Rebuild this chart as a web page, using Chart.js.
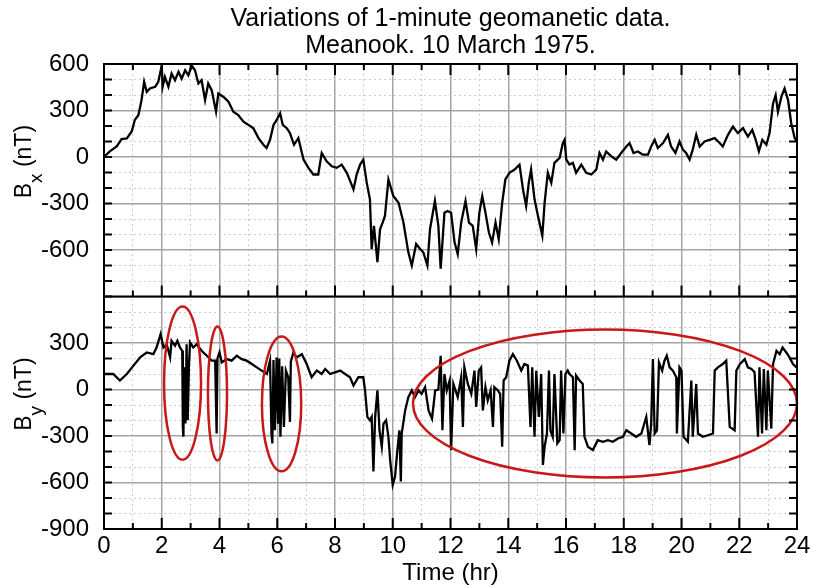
<!DOCTYPE html>
<html>
<head>
<meta charset="utf-8">
<script src="https://cdn.jsdelivr.net/npm/chart.js@4.4.1/dist/chart.umd.min.js"></script>
<style>
  html, body { margin: 0; padding: 0; background: #fff; }
  canvas { display: block; }
</style>
</head>
<body>
<canvas id="chart" width="814" height="588"></canvas>
<script>
const titleLines = ["Variations of 1-minute geomanetic data.", "Meanook. 10 March 1975."];
const xTitle = "Time (hr)";

// [hour, nT]
const bx = [
  [0, 0], [0.2, 36], [0.44, 68], [0.61, 115], [0.79, 120], [0.96, 165], [1.07, 240], [1.19, 270],
  [1.3, 367], [1.39, 485], [1.48, 420], [1.59, 442], [1.77, 453], [1.88, 485], [2.0, 590], [2.03, 453],
  [2.11, 517], [2.23, 453], [2.34, 538], [2.46, 495], [2.58, 549], [2.69, 506], [2.81, 560], [2.92, 527],
  [3.04, 590], [3.15, 560], [3.27, 474], [3.38, 495], [3.5, 367], [3.61, 474], [3.73, 431], [3.88, 292],
  [3.96, 410], [4.13, 389], [4.31, 357], [4.48, 292], [4.65, 271], [4.83, 228], [5.0, 207], [5.17, 186],
  [5.35, 122], [5.52, 79], [5.63, 58], [5.75, 111], [5.87, 207], [5.98, 239], [6.1, 282], [6.19, 207],
  [6.33, 186], [6.44, 154], [6.58, 79], [6.73, 122], [6.91, -17], [7.08, -70], [7.25, -113], [7.42, -113],
  [7.54, 26], [7.71, -28], [7.89, -60], [8.06, -70], [8.23, -49], [8.41, -102], [8.64, -209], [8.75, -113],
  [8.87, -49], [8.98, -17], [9.1, -167], [9.21, -273], [9.27, -594], [9.35, -444], [9.47, -679], [9.56, -466],
  [9.65, -423], [9.73, -380], [9.85, -145], [10.02, -252], [10.2, -295], [10.37, -423], [10.54, -615], [10.66, -700],
  [10.81, -561], [10.95, -594], [11.06, -615], [11.2, -700], [11.29, -466], [11.46, -284], [11.58, -444], [11.66, -721],
  [11.79, -359], [11.9, -348], [12.02, -359], [12.14, -551], [12.25, -626], [12.37, -423], [12.52, -284], [12.64, -423],
  [12.77, -444], [12.89, -594], [13.0, -359], [13.1, -252], [13.21, -359], [13.33, -487], [13.44, -551], [13.56, -423],
  [13.67, -530], [13.79, -295], [13.9, -145], [14.04, -102], [14.22, -81], [14.39, -49], [14.51, -209], [14.62, -316],
  [14.71, -167], [14.79, -81], [14.91, -273], [15.03, -380], [15.18, -508], [15.26, -295], [15.37, -102], [15.49, -167],
  [15.6, -38], [15.78, -6], [15.89, 90], [15.95, 111], [16.01, -17], [16.12, -49], [16.24, -38], [16.35, -102],
  [16.53, -49], [16.7, -102], [16.88, -113], [17.05, -81], [17.16, 26], [17.28, -17], [17.39, 36], [17.57, 4],
  [17.74, -17], [17.91, 26], [18.09, 68], [18.2, 90], [18.34, 26], [18.49, 36], [18.66, 15], [18.84, 15],
  [18.95, 68], [19.07, 111], [19.18, 58], [19.36, 90], [19.53, 143], [19.64, 68], [19.79, 26], [19.93, 100],
  [20.05, 47], [20.16, 26], [20.28, -17], [20.39, 47], [20.51, 143], [20.63, 68], [20.8, 100], [20.97, 111],
  [21.15, 122], [21.32, 90], [21.43, 68], [21.61, 143], [21.78, 196], [21.95, 154], [22.13, 186], [22.3, 132],
  [22.45, 175], [22.57, 111], [22.68, 36], [22.8, 111], [22.94, 79], [23.05, 154], [23.17, 346], [23.26, 399],
  [23.34, 292], [23.46, 389], [23.57, 442], [23.69, 367], [23.8, 218], [23.92, 122], [24.0, 100]
];

const by = [
  [0, 100], [0.32, 100], [0.55, 58], [0.79, 100], [1.02, 154], [1.25, 207], [1.48, 239], [1.71, 228],
  [1.82, 271], [1.96, 357], [2.06, 271], [2.17, 292], [2.29, 207], [2.34, 314], [2.46, 282], [2.54, 314],
  [2.63, 271], [2.71, 250], [2.73, -241], [2.75, -305], [2.78, 143], [2.82, -220], [2.86, 292], [2.9, -199],
  [2.94, 143], [2.98, 303], [3.09, 271], [3.21, 292], [3.38, 250], [3.56, 218], [3.73, 186], [3.85, 186],
  [3.9, -284], [3.93, 200], [4.0, 239], [4.08, 175], [4.25, 196], [4.42, 186], [4.6, 218], [4.77, 196],
  [4.94, 186], [5.12, 164], [5.29, 143], [5.46, 122], [5.64, 100], [5.75, 186], [5.8, -284], [5.83, -348],
  [5.87, 190], [5.92, -263], [5.98, 207], [6.03, -220], [6.07, 200], [6.11, -305], [6.17, 150], [6.23, -241],
  [6.3, 122], [6.38, 79], [6.44, -209], [6.47, 180], [6.56, 239], [6.67, 207], [6.85, 228], [7.02, 164],
  [7.19, 79], [7.37, 122], [7.54, 100], [7.66, 132], [7.83, 100], [8.0, 111], [8.18, 122], [8.35, 100],
  [8.52, 79], [8.64, 26], [8.81, 79], [8.98, 79], [9.04, -6], [9.12, -177], [9.21, -199], [9.27, -177],
  [9.33, -529], [9.39, -177], [9.47, -6], [9.54, -263], [9.62, -369], [9.68, -220], [9.77, -199], [9.85, -305],
  [9.91, -455], [10.0, -615], [10.08, -562], [10.16, -391], [10.23, -263], [10.28, -594], [10.31, -284], [10.43, -135],
  [10.54, -49], [10.66, -6], [10.77, -49], [10.89, -6], [11.0, -28], [11.12, 15], [11.24, -135], [11.36, -188],
  [11.47, -6], [11.58, 0], [11.66, 218], [11.72, -263], [11.79, 100], [11.87, -6], [11.97, 58], [12.02, -391],
  [12.1, 36], [12.25, -49], [12.37, 79], [12.43, -241], [12.48, 143], [12.6, 36], [12.72, -28], [12.83, 122],
  [12.89, -113], [12.98, 122], [13.06, 143], [13.12, -135], [13.21, 15], [13.29, -70], [13.39, -6], [13.47, -241],
  [13.52, 15], [13.64, -6], [13.72, -28], [13.79, -369], [13.84, 58], [13.93, 79], [14.04, 186], [14.16, 228],
  [14.3, 186], [14.45, 122], [14.56, 164], [14.68, 154], [14.77, -241], [14.83, 143], [14.91, -305], [14.97, 120],
  [15.06, -177], [15.14, 100], [15.2, -487], [15.26, -369], [15.34, -284], [15.41, 122], [15.46, -263], [15.54, -305],
  [15.6, 100], [15.7, -348], [15.78, -327], [15.83, 122], [15.91, -284], [15.98, 100], [16.06, 122], [16.12, 100],
  [16.24, 79], [16.3, -391], [16.35, 90], [16.47, 58], [16.58, 36], [16.64, -305], [16.76, -369], [16.93, -391],
  [17.1, -327], [17.28, -337], [17.45, -327], [17.62, -337], [17.8, -316], [17.97, -305], [18.09, -263], [18.26, -284],
  [18.43, -305], [18.61, -284], [18.78, -177], [18.89, -359], [18.95, -220], [19.01, 196], [19.07, -284], [19.15, -263],
  [19.22, 175], [19.33, 122], [19.41, 186], [19.49, 218], [19.59, 143], [19.7, 122], [19.82, 79], [19.84, -284],
  [19.93, 143], [20.0, 122], [20.07, -305], [20.22, -337], [20.34, 58], [20.39, -305], [20.51, 36], [20.57, -284],
  [20.74, -305], [20.91, -295], [21.09, -284], [21.15, 122], [21.26, 143], [21.43, 164], [21.55, 186], [21.67, -241],
  [21.84, -263], [21.9, 122], [22.02, 164], [22.19, 196], [22.3, 143], [22.42, 132], [22.53, 111], [22.65, -305],
  [22.7, 143], [22.79, -284], [22.85, 132], [22.94, -263], [22.99, 122], [23.11, -252], [23.17, 164], [23.29, 250],
  [23.4, 228], [23.5, 271], [23.63, 239], [23.74, 207], [23.86, 164], [23.98, 143]
];

// red rings on the By panel: [centre hour, centre nT, half width hr, half height nT]
const rings = [
  [2.72, 41, 0.64, 494],
  [3.93, -26, 0.33, 432],
  [6.15, -93, 0.68, 435],
  [17.35, -90, 6.65, 477]
];

const yMin = -900, yMax = 600;
const FONT = "'Liberation Sans', Arial, sans-serif";

const toXY = arr => arr.map(p => ({ x: p[0], y: p[1] }));

const yAxis = (hidden) => ({
  type: "linear",
  position: "left",
  stack: "panels",
  stackWeight: 1,
  min: yMin,
  max: yMax,
  afterFit: (s) => { s.width = 104; },
  ticks: {
    stepSize: 100,
    autoSkip: false,
    padding: 15,
    color: "#000",
    font: { family: FONT, size: 24 },
    callback: (v) => (v % 300 === 0 && v !== hidden ? String(v) : ""),
  },
  grid: {
    drawTicks: false,
    color: (c) => (c.tick && c.tick.value % 300 === 0 ? "#a4a4a4" : "#cdcdcd"),
    lineWidth: (c) => (c.tick && c.tick.value % 300 === 0 ? 1.5 : 1),
  },
  border: {
    display: false,
    dash: (c) => (c.tick && c.tick.value % 300 !== 0 ? [2, 3] : []),
  },
});

const drawAxisTitle = (ctx, cx, cy, main, sub, rest) => {
  ctx.save();
  ctx.translate(cx, cy);
  ctx.rotate(-Math.PI / 2);
  const big = "23px " + FONT, small = "19px " + FONT;
  ctx.font = big;
  const w1 = ctx.measureText(main).width;
  const w3 = ctx.measureText(rest).width;
  ctx.font = small;
  const w2 = ctx.measureText(sub).width;
  const x0 = -(w1 + w2 + w3) / 2;
  ctx.fillStyle = "#000";
  ctx.textBaseline = "alphabetic";
  ctx.font = big;
  ctx.fillText(main, x0, 0);
  ctx.font = small;
  ctx.fillText(sub, x0 + w1, 11);
  ctx.font = big;
  ctx.fillText(rest, x0 + w1 + w2, 0);
  ctx.restore();
};

const frame = {
  id: "frame",
  afterDatasetsDraw(chart) {
    const { ctx, chartArea: a, scales } = chart;
    const x = scales.x, yt = scales.yTop, yb = scales.yBot;
    ctx.save();

    ctx.strokeStyle = "rgb(200, 24, 24)";
    ctx.lineWidth = 2.5;
    for (const r of rings) {
      const cx = x.getPixelForValue(r[0]);
      const cy = yb.getPixelForValue(r[1]);
      const rx = Math.abs(x.getPixelForValue(r[0] + r[2]) - cx);
      const ry = Math.abs(yb.getPixelForValue(r[1] + r[3]) - cy);
      ctx.beginPath();
      ctx.ellipse(cx, cy, rx, ry, 0, 0, 2 * Math.PI);
      ctx.stroke();
    }

    ctx.strokeStyle = "#000";
    ctx.lineWidth = 2;
    ctx.strokeRect(a.left, a.top, a.right - a.left, a.bottom - a.top);
    ctx.beginPath();
    ctx.moveTo(a.left, yt.bottom);
    ctx.lineTo(a.right, yt.bottom);
    ctx.stroke();

    // inward tick marks
    ctx.beginPath();
    for (let h = 0; h <= 24; h++) {
      const px = x.getPixelForValue(h);
      const len = h % 2 === 0 ? 11 : 6;
      ctx.moveTo(px, a.top); ctx.lineTo(px, a.top + len);
      ctx.moveTo(px, yt.bottom); ctx.lineTo(px, yt.bottom - len);
      ctx.moveTo(px, a.bottom); ctx.lineTo(px, a.bottom - len);
    }
    for (const s of [yt, yb]) {
      for (let v = yMin; v <= yMax; v += 100) {
        const py = s.getPixelForValue(v);
        ctx.moveTo(a.left, py); ctx.lineTo(a.left + 8, py);
        ctx.moveTo(a.right, py); ctx.lineTo(a.right - 8, py);
      }
    }
    ctx.stroke();
    ctx.restore();
  },
  afterDraw(chart) {
    const { ctx, scales } = chart;
    drawAxisTitle(ctx, 31, scales.yTop.getPixelForValue(-30), "B", "x", " (nT)");
    drawAxisTitle(ctx, 31, scales.yBot.getPixelForValue(-30), "B", "y", " (nT)");
  },
};

new Chart(document.getElementById("chart"), {
  type: "line",
  data: {
    datasets: [
      { label: "Bx", data: toXY(bx), yAxisID: "yTop", borderColor: "#000", borderWidth: 2.3, pointRadius: 0, tension: 0 },
      { label: "By", data: toXY(by), yAxisID: "yBot", borderColor: "#000", borderWidth: 2.3, pointRadius: 0, tension: 0 },
    ],
  },
  options: {
    responsive: false,
    animation: false,
    layout: { padding: { left: 0, right: 17, top: 0, bottom: 0 } },
    plugins: {
      legend: { display: false },
      tooltip: { enabled: false },
      title: {
        display: true,
        fullSize: false,
        text: titleLines,
        color: "#000",
        font: { family: FONT, size: 25, weight: "normal", lineHeight: 1.1 },
        padding: { top: 5, bottom: 4 },
      },
    },
    scales: {
      x: {
        type: "linear",
        min: 0,
        max: 24,
        afterFit: (s) => { s.height = 59; },
        ticks: {
          stepSize: 1,
          autoSkip: false,
          maxRotation: 0,
          padding: 3,
          color: "#000",
          font: { family: FONT, size: 24 },
          callback: (v) => (v % 2 === 0 ? String(v) : ""),
        },
        grid: {
          drawTicks: false,
          color: (c) => (c.tick && c.tick.value % 2 === 0 ? "#a4a4a4" : "#cdcdcd"),
          lineWidth: (c) => (c.tick && c.tick.value % 2 === 0 ? 1.5 : 1),
        },
        border: {
          display: false,
          dash: (c) => (c.tick && c.tick.value % 2 !== 0 ? [2, 3] : []),
        },
        title: {
          display: true,
          text: xTitle,
          color: "#000",
          font: { family: FONT, size: 24 },
          padding: { top: 0, bottom: 0 },
        },
      },
      yBot: yAxis(yMax),
      yTop: yAxis(yMin),
    },
  },
  plugins: [frame],
});
</script>
</body>
</html>
